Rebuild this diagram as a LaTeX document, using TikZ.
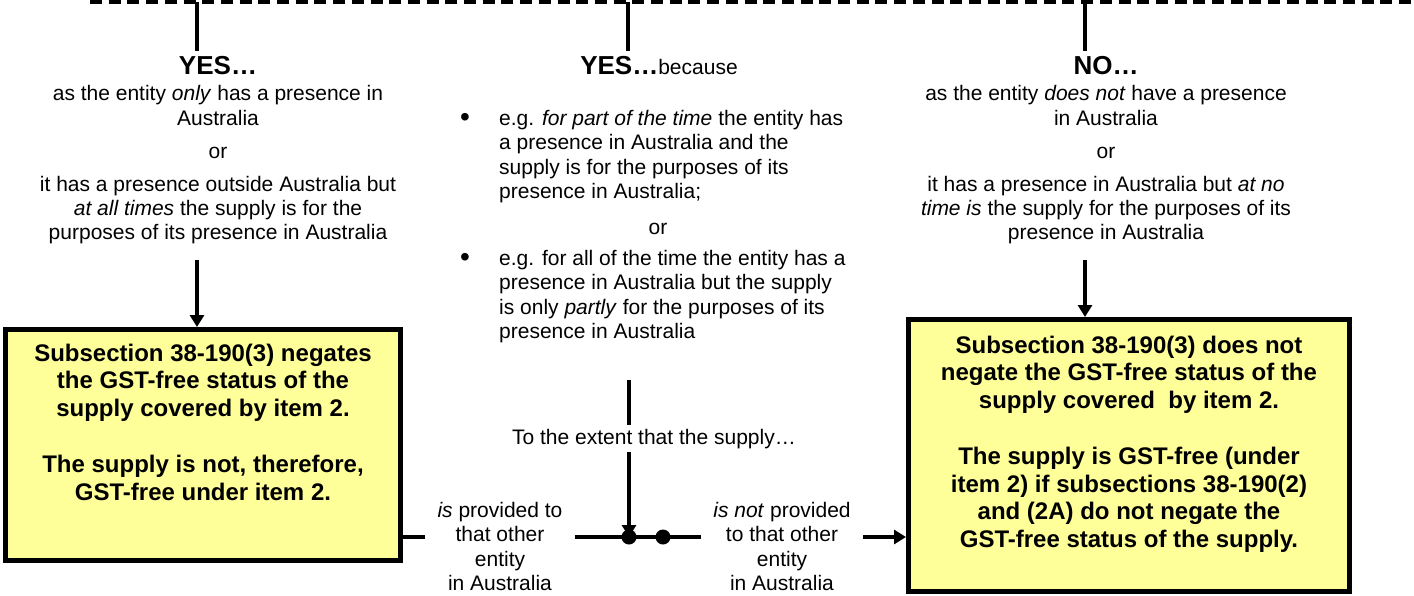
\documentclass[tikz,border=0pt]{standalone}
\usepackage{fontspec}
\setmainfont{Liberation Sans}
\usetikzlibrary{arrows.meta,calc,positioning}
\definecolor{boxyellow}{RGB}{255,255,153}

\begin{document}
\begin{tikzpicture}[x=1pt, y=-1pt,
            every node/.style = {inner sep=0pt, align=center},
            body/.style = {font=\fontsize{21}{24.15}\selectfont},
            header/.style = {font=\bfseries\fontsize{26}{30}\selectfont, anchor=base},
            gstbox/.style = {draw, line width=5pt, fill=boxyellow},
            boxtext/.style = {font=\bfseries\fontsize{24}{27.6}\selectfont},
            branch/.style = {body, inner xsep=12pt, anchor=north},
            bullet/.style = {font=\fontsize{28}{30}\selectfont, anchor=base},
            dot/.style = {circle, fill, minimum size=15pt},
            conn/.style = {line width=3.2pt},
            arr/.style = {conn, -{Triangle[length=12pt, width=14pt]}}]
            \useasboundingbox (0,0) rectangle (1414,595);
            % dashed line at the top
            \coordinate (dl) at (90,1.5);
            \coordinate (dr) at (1414,1.5);
            \draw[line width=4pt, dash pattern=on 12pt off 6.7pt] (dl) -- (dr);
            \coordinate (d1) at (197,1.5);
            \coordinate (d2) at (628,1.5);
            \coordinate (d3) at (1085,1.5);

            % the three answers
            \node[header] (yesonly) at (218,74) {YES…};
            \node[header] (yesbecause) at (659,74) {YES…{\mdseries\fontsize{21}{24}\selectfont because}};
            \node[header] (no) at (1106,74) {NO…};
            \draw[conn] (d1) -- ($(d1 |- yesonly.north)+(0,-5)$);
            \draw[conn] (d2) -- ($(d2 |- yesbecause.north)+(0,-5)$);
            \draw[conn] (d3) -- ($(d3 |- no.north)+(0,-5)$);

            \node[body, anchor=north] (onlyaus) at (218,85.5) {as the entity \textit{only} has a presence in\\Australia\\[9pt]or\\[9pt]it has a presence outside Australia but\\\textit{at all times} the supply is for the\\purposes of its presence in Australia};
            \node[body, anchor=north] (noaus) at (1106,85.5) {as the entity \textit{does not} have a presence\\in Australia\\[9pt]or\\[9pt]it has a presence in Australia but \textit{at no}\\\textit{time is} the supply for the purposes of its\\presence in Australia};

            \node[bullet] (b1) at (465,126) {•};
            \node[body, anchor=north west, align=left] (parttime) at (499,110.4) {e.g. \textit{for part of the time} the entity has\\a presence in Australia and the\\supply is for the purposes of its\\presence in Australia;};
            \node[body, anchor=base] (ormid) at (658,234.5) {or};
            \node[bullet] (b2) at (465,266) {•};
            \node[body, anchor=north west, align=left] (partly) at (499,250.4) {e.g. for all of the time the entity has a\\presence in Australia but the supply\\is only \textit{partly} for the purposes of its\\presence in Australia};

            % outcome boxes
            \node[gstbox, minimum width=395pt, minimum height=231pt] (lbox) at (203,445) {};
            \node[boxtext, below=16.7pt of lbox.north] (negates) {Subsection 38-190(3) negates\\the GST-free status of the\\supply covered by item 2.\\[28.5pt]The supply is not, therefore,\\GST-free under item 2.};
            \node[gstbox, minimum width=441pt, minimum height=272pt] (rbox) at (1129,455.5) {};
            \node[boxtext, below=18.7pt of rbox.north] (notnegate) {Subsection 38-190(3) does not\\negate the GST-free status of the\\supply covered\ \ by item 2.\\[28.5pt]The supply is GST-free (under\\item 2) if subsections 38-190(2)\\and (2A) do not negate the\\GST-free status of the supply.};
            \draw[arr] ($(onlyaus.south -| d1)+(0,16)$) -- (d1 |- lbox.north);
            \draw[arr] ($(noaus.south -| d3)+(0,16)$) -- (d3 |- rbox.north);

            % extent of the supply
            \coordinate (m1) at (629,380);
            \node[body, anchor=base] (extent) at (654,444.5) {To the extent that the supply…};
            \node[dot] (j1) at (629,537) {};
            \node[dot] (j2) at (663,537) {};
            \draw[conn] (m1) -- ($(m1 |- extent.north)+(0,-4)$);
            \draw[arr] ($(extent.south -| j1)+(0,3)$) -- (j1.center);

            \node[branch] (provided) at (500,502.4) {\textit{is} provided to\\that other\\entity\\in Australia};
            \node[branch] (notprovided) at (782,502.4) {\textit{is not} provided\\to that other\\entity\\in Australia};
            \draw[conn] (lbox.east |- j1) -- (provided.west |- j1);
            \draw[conn] (provided.east |- j1) -- (notprovided.west |- j1);
            \draw[arr] (notprovided.east |- j1) -- (rbox.west |- j1);
        \end{tikzpicture}
\end{document}
